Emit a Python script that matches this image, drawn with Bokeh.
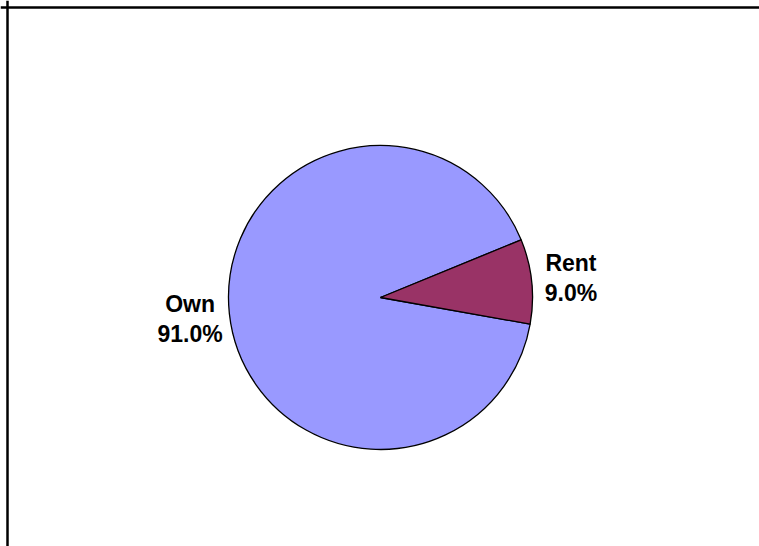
import math
from bokeh.plotting import figure
from bokeh.models import Range1d, Span, ColumnDataSource
from bokeh.core.properties import value
from bokeh.embed import file_html
from bokeh.resources import INLINE

# ---- data ----
categories = ["Own", "Rent"]
shares = [91.0, 9.0]
colors = ["#9999FF", "#993366"]

# ---- layout (pixel-like data units) ----
W, H = 759, 546
cx, cy = 380, -297          # pie centre (image px, y negative)
radius = 152
start_deg = 22.3            # first slice starts here, counter-clockwise
label_r = 1.26 * radius

total = sum(shares)
starts, ends, lx, ly, names, pcts = [], [], [], [], [], []
a = math.radians(start_deg)
for c, s in zip(categories, shares):
    span = 2 * math.pi * s / total
    starts.append(a)
    ends.append(a + span)
    mid = a + span / 2
    lx.append(cx + label_r * math.cos(mid))
    ly.append(cy + label_r * math.sin(mid))
    names.append(c)
    pcts.append(f"{s:.1f}%")
    a += span

src = ColumnDataSource(dict(start=starts, end=ends, color=colors,
                            lx=lx, ly=ly, name=names, pct=pcts))

p = figure(width=W, height=H, output_backend="svg", toolbar_location=None,
           x_range=Range1d(0, W), y_range=Range1d(-H, 0),
           min_border=0)
p.axis.visible = False
p.grid.visible = False
p.outline_line_color = None
p.background_fill_color = "white"
p.border_fill_color = "white"

p.wedge(x=cx, y=cy, radius=radius, start_angle="start", end_angle="end",
        fill_color="color", line_color="black", line_width=1.3, source=src)

p.text(x="lx", y="ly", text="name", source=src, text_align="center",
       text_baseline="middle", y_offset=-14, text_font=value("Liberation Sans"),
       text_font_style="bold", text_font_size="23px", text_color="black")
p.text(x="lx", y="ly", text="pct", source=src, text_align="center",
       text_baseline="middle", y_offset=16, text_font=value("Liberation Sans"),
       text_font_style="bold", text_font_size="23px", text_color="black")

# chart-area border (top and left edges visible in the reference)
p.add_layout(Span(location=-7, dimension="width", line_color="black", line_width=2.5))
p.add_layout(Span(location=7, dimension="height", line_color="black", line_width=2.5))

open("out.html", "w").write(file_html(p, INLINE))
